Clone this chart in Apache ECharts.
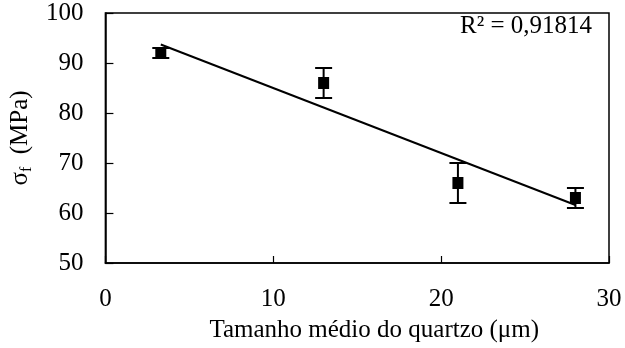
<!DOCTYPE html>
<html>
<head>
<meta charset="utf-8">
<script src="https://cdn.jsdelivr.net/npm/echarts@6/dist/echarts.min.js"></script>
<style>html,body{margin:0;padding:0;background:#fff;}#c{width:625px;height:348px;}</style>
</head>
<body>
<div id="c"></div>
<script>
// Data
var grainSize = [3.3, 13.0, 21.0, 28.0];
var strength = [92, 86, 66, 63];
var strengthErr = [1, 3, 4, 2];
var trendX = [3.3, 28.0];
var trendY = [93.7, 61.6];
var xTicks = [0, 10, 20, 30];
var yTicks = [50, 60, 70, 80, 90, 100];
var r2Text = 'R² = 0,91814';
var xTitle = 'Tamanho médio do quartzo (μm)';

var FONT = '"Liberation Serif", "Times New Roman", serif';
var FS = 25;
var chart = echarts.init(document.getElementById('c'), null, {renderer: 'canvas'});

var points = grainSize.map(function (x, i) { return [x, strength[i]]; });
var errData = grainSize.map(function (x, i) { return [x, strength[i] - strengthErr[i], strength[i] + strengthErr[i]]; });
var trend = trendX.map(function (x, i) { return [x, trendY[i]]; });

chart.setOption({
  animation: false,
  backgroundColor: '#fff',
  grid: {left: 102, right: 16, top: 13, bottom: 84, show: true, borderColor: '#000', borderWidth: 1.5, backgroundColor: 'transparent'},
  xAxis: {
    type: 'value', min: xTicks[0], max: xTicks[xTicks.length - 1], interval: 10,
    axisLine: {show: true, lineStyle: {color: '#000', width: 1.5}},
    axisTick: {show: true, inside: true, length: 7, lineStyle: {color: '#000', width: 1.2}},
    splitLine: {show: false},
    axisLabel: {color: '#000', fontFamily: FONT, fontSize: FS, margin: 24},
    name: xTitle, nameLocation: 'middle', nameGap: 55,
    nameTextStyle: {color: '#000', fontFamily: FONT, fontSize: FS, padding: [0, 0, 0, 34]}
  },
  yAxis: {
    type: 'value', min: yTicks[0], max: yTicks[yTicks.length - 1], interval: 10,
    axisLine: {show: true, lineStyle: {color: '#000', width: 1.5}},
    axisTick: {show: true, inside: true, length: 8, lineStyle: {color: '#000', width: 1.2}},
    splitLine: {show: false},
    axisLabel: {color: '#000', fontFamily: FONT, fontSize: FS, margin: 22},
    name: '{a|σ}{s|f}{a|  (MPa)}', nameLocation: 'middle', nameGap: 66, nameRotate: 90,
    nameTextStyle: {
      color: '#000', fontFamily: FONT, fontSize: FS,
      rich: {
        a: {fontFamily: FONT, fontSize: FS, color: '#000'},
        s: {fontFamily: FONT, fontSize: 16, color: '#000', padding: [13, 0, 0, 0], verticalAlign: 'bottom'}
      }
    }
  },
  series: [
    {
      type: 'line', data: trend, showSymbol: false, symbol: 'none',
      lineStyle: {color: '#000', width: 2}, z: 2
    },
    {
      type: 'custom', data: errData, z: 3,
      renderItem: function (params, api) {
        var x = api.value(0);
        var lo = api.coord([x, api.value(1)]);
        var hi = api.coord([x, api.value(2)]);
        var w = 8.5;
        var st = {stroke: '#000', lineWidth: 2};
        return {type: 'group', children: [
          {type: 'line', shape: {x1: lo[0], y1: lo[1], x2: hi[0], y2: hi[1]}, style: st},
          {type: 'line', shape: {x1: lo[0] - w, y1: lo[1], x2: lo[0] + w, y2: lo[1]}, style: st},
          {type: 'line', shape: {x1: hi[0] - w, y1: hi[1], x2: hi[0] + w, y2: hi[1]}, style: st}
        ]};
      }
    },
    {
      type: 'scatter', data: points, symbol: 'rect', symbolSize: [11, 12],
      itemStyle: {color: '#000', opacity: 1}, z: 4
    }
  ],
  graphic: [{
    type: 'text', right: 33, top: 14,
    style: {text: r2Text, fill: '#000', font: FS + 'px ' + FONT}
  }]
});
</script>
</body>
</html>
